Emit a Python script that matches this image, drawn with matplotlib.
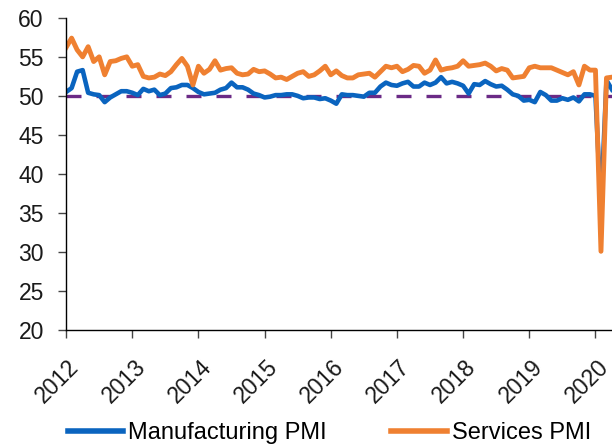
import numpy as np
import matplotlib
matplotlib.use("Agg")
from matplotlib import pyplot as plt
from matplotlib.transforms import ScaledTranslation

# monthly PMI readings, Jan 2012 .. Apr 2020
manufacturing = [
    50.5, 51.0, 53.1, 53.3, 50.4, 50.2, 50.1, 49.2, 49.8, 50.2, 50.6, 50.6,
    50.4, 50.1, 50.9, 50.6, 50.8, 50.1, 50.3, 51.0, 51.1, 51.4, 51.4, 51.0,
    50.5, 50.2, 50.3, 50.4, 50.8, 51.0, 51.7, 51.1, 51.1, 50.8, 50.3, 50.1,
    49.8, 49.9, 50.1, 50.1, 50.2, 50.2, 50.0, 49.7, 49.8, 49.8, 49.6, 49.7,
    49.4, 49.0, 50.2, 50.1, 50.1, 50.0, 49.9, 50.4, 50.4, 51.2, 51.7, 51.4,
    51.3, 51.6, 51.8, 51.2, 51.2, 51.7, 51.4, 51.7, 52.4, 51.6, 51.8, 51.6,
    51.3, 50.3, 51.5, 51.4, 51.9, 51.5, 51.2, 51.3, 50.8, 50.2, 50.0, 49.4,
    49.5, 49.2, 50.5, 50.1, 49.4, 49.4, 49.7, 49.5, 49.8, 49.3, 50.2, 50.2,
    50.0, 35.7, 52.0, 50.8,
]
services = [
    56.2, 57.4, 55.9, 55.0, 56.3, 54.4, 55.0, 52.7, 54.4, 54.5, 54.8, 55.0,
    53.8, 54.0, 52.5, 52.3, 52.4, 52.8, 52.6, 53.1, 54.0, 54.8, 53.8, 51.4,
    53.8, 52.9, 53.4, 54.5, 53.3, 53.5, 53.6, 52.9, 52.7, 52.8, 53.4, 53.1,
    53.2, 52.8, 52.3, 52.4, 52.1, 52.5, 52.9, 53.1, 52.5, 52.7, 53.2, 53.8,
    52.7, 53.2, 52.6, 52.3, 52.3, 52.7, 52.8, 52.9, 52.4, 53.1, 53.8, 53.6,
    53.8, 53.1, 53.4, 53.9, 53.8, 52.9, 53.3, 54.6, 53.3, 53.5, 53.6, 53.8,
    54.5, 53.8, 53.9, 54.0, 54.2, 53.8, 53.2, 53.5, 53.3, 52.3, 52.4, 52.5,
    53.6, 53.8, 53.6, 53.6, 53.6, 53.3, 53.0, 52.7, 53.1, 51.4, 53.8, 53.3,
    53.3, 30.1, 52.3, 52.4,
]
years = list(range(2012, 2021))
threshold = 50

x = 2012 + np.arange(len(services)) / 12.0

plt.rcParams['font.family'] = ['Liberation Sans', 'DejaVu Sans']

fig = plt.figure(figsize=(6.12, 4.45), dpi=100)
ax = fig.add_axes([0.108, 0.258, 0.892, 0.702])

ax.plot(x, manufacturing, color='#0a64bf', lw=3.3, label='Manufacturing PMI', solid_joinstyle='round')
ax.plot(x, services, color='#ef8031', lw=3.5, label='Services PMI', solid_joinstyle='round')
ax.axhline(threshold, color='#6b2a86', lw=2.4, dashes=(4.5, 4.5), zorder=1)

ax.set_xlim(2012, 2020.25)
ax.set_ylim(20, 60)
ax.set_yticks(range(20, 61, 5))
ax.set_xticks(years)
ax.set_xticklabels([str(y) for y in years], rotation=45, ha='right', rotation_mode='anchor')
ax.tick_params(axis='both', labelsize=16.5, length=6, width=1, color='#444444', labelcolor='#1a1a1a')
ax.tick_params(axis='y', pad=10)
ax.tick_params(axis='x', pad=8)

# push the rotated year labels a little lower, like the original
shift = ScaledTranslation(1 / 72, -4 / 72, fig.dpi_scale_trans)
for lab in ax.get_xticklabels():
    lab.set_transform(lab.get_transform() + shift)

for s in ['top', 'right']:
    ax.spines[s].set_visible(False)
for s in ['left', 'bottom']:
    ax.spines[s].set_color('black')
    ax.spines[s].set_linewidth(1)

leg = fig.legend(loc='lower center', bbox_to_anchor=(0.538, -0.045), ncol=2, frameon=False,
                 fontsize=17, handlelength=2.35, columnspacing=2.75, handletextpad=0.2)
for line in leg.get_lines():
    line.set_linewidth(4)

fig.savefig('out.png', dpi=100)
